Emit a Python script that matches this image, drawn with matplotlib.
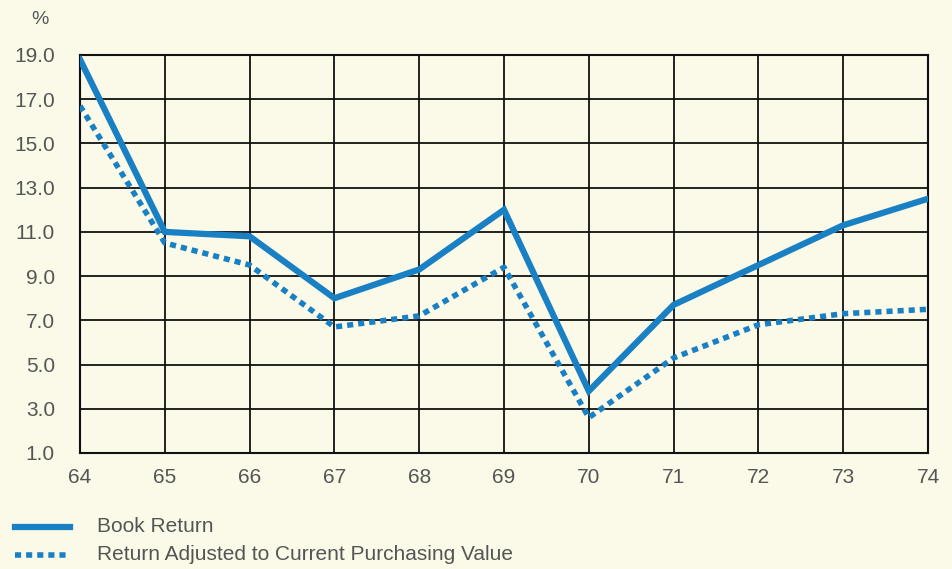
import matplotlib
matplotlib.use("Agg")
import matplotlib.pyplot as plt
from matplotlib.lines import Line2D

years = [64, 65, 66, 67, 68, 69, 70, 71, 72, 73, 74]
book_return = [18.8, 11.0, 10.8, 8.0, 9.3, 12.0, 3.8, 7.7, 9.5, 11.3, 12.5]
adjusted_return = [16.7, 10.5, 9.5, 6.7, 7.2, 9.4, 2.6, 5.3, 6.8, 7.3, 7.5]
yticks = [1.0, 3.0, 5.0, 7.0, 9.0, 11.0, 13.0, 15.0, 17.0, 19.0]
series_labels = ["Book Return", "Return Adjusted to Current Purchasing Value"]

BG = "#fbfae9"
BLUE = "#1a80c4"
TXT = "#555555"

plt.rcParams['font.family'] = ['Liberation Sans', 'DejaVu Sans']

fig = plt.figure(figsize=(9.53, 5.69), dpi=100, facecolor=BG)
ax = fig.add_axes([80/953, 1-453/569, (928-80)/953, (453-55)/569])
ax.set_facecolor(BG)

ax.plot(years, book_return, color=BLUE, lw=4.5, solid_joinstyle='miter', zorder=3)
ax.plot(years, adjusted_return, color=BLUE, lw=4.0, linestyle=(0, (1.1, 0.9)),
        dash_capstyle='butt', zorder=3)

ax.set_xlim(64, 74)
ax.set_ylim(1, 19)
ax.set_xticks(years)
ax.set_xticklabels([str(y) for y in years])
ax.set_yticks(yticks)
ax.set_yticklabels([f"{v:.1f}" for v in yticks])
ax.grid(True, color="#111111", lw=1.3, zorder=1)
for s in ax.spines.values():
    s.set_color("#111111")
    s.set_linewidth(1.5)
ax.tick_params(length=0, labelsize=15, colors=TXT)
ax.tick_params(axis='y', pad=18)
ax.tick_params(axis='x', pad=11)

fig.text(40/953, 1-20/569, "%", fontsize=14, color=TXT, ha='center', va='center')

# legend
fig.add_artist(Line2D([15/953, 70/953], [1-527/569, 1-527/569], color=BLUE, lw=4.5,
                      transform=fig.transFigure))
fig.add_artist(Line2D([15/953, 70/953], [1-555/569, 1-555/569], color=BLUE, lw=4.0,
                      linestyle=(0, (1.1, 0.9)), dash_capstyle='butt',
                      transform=fig.transFigure))
fig.text(97/953, 1-527/569, series_labels[0], fontsize=15, color=TXT, va='center')
fig.text(97/953, 1-555/569, series_labels[1], fontsize=15, color=TXT, va='center')

fig.savefig("out.png", dpi=100, facecolor=BG)
